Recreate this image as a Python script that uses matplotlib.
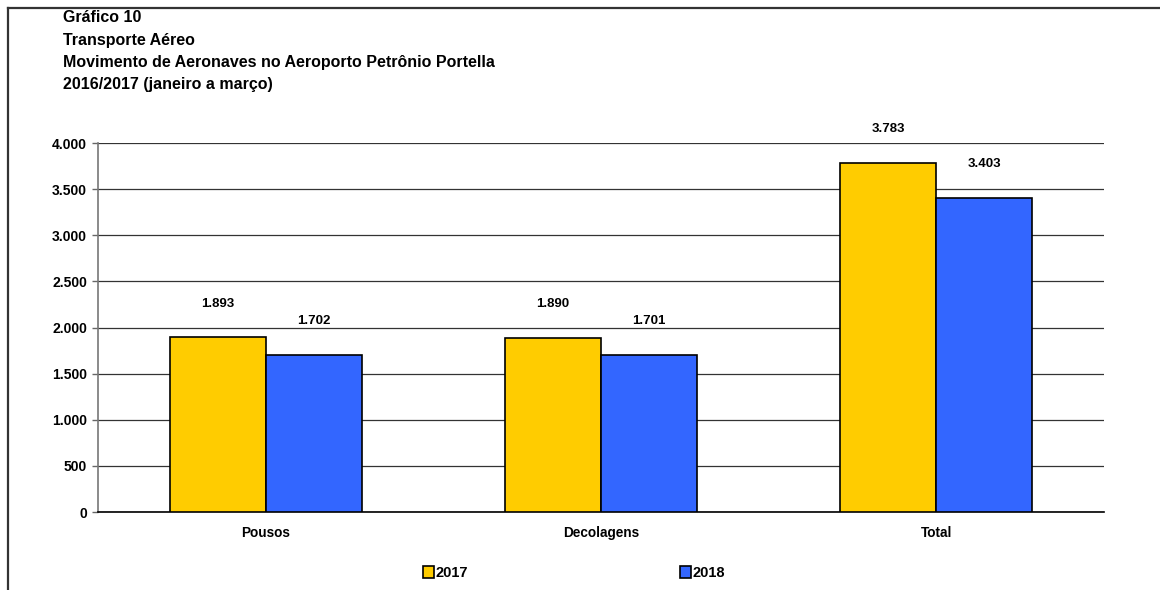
import matplotlib.pyplot as plt
import numpy as np
from matplotlib.lines import Line2D
from matplotlib.patches import Patch

plt.rcParams["font.family"] = ["Liberation Sans", "DejaVu Sans"]
plt.rcParams["font.weight"] = "bold"

categories = ["Pousos", "Decolagens", "Total"]
series_names = ["2017", "2018"]
values_2017 = [1893, 1890, 3783]
values_2018 = [1702, 1701, 3403]
title_lines = [
    "Gráfico 10",
    "Transporte Aéreo",
    "Movimento de Aeronaves no Aeroporto Petrônio Portella",
    "2016/2017 (janeiro a março)",
]

colors = ["#FFCC00", "#3366FF"]


def fmt(v):
    return f"{v:,.0f}".replace(",", ".")


fig = plt.figure(figsize=(11.6, 5.9), dpi=100)
ax = fig.add_axes([0.0845, 0.1322, 0.8672, 0.6254])

x = np.arange(len(categories))
w = 0.286
for i, (vals, c) in enumerate(zip([values_2017, values_2018], colors)):
    b = ax.bar(x + (i - 0.5) * w, vals, width=w, color=c, edgecolor="black",
               linewidth=1.2, zorder=3)
    ax.bar_label(b, labels=[fmt(v) for v in vals], padding=20, fontsize=9.5,
                 fontweight="bold", zorder=4)

ax.set_xlim(-0.5, 2.5)
ax.set_ylim(0, 4000)
ax.set_yticks(np.arange(0, 4001, 500))
ax.set_yticklabels([fmt(v) for v in np.arange(0, 4001, 500)], fontsize=10)
ax.set_xticks(x)
ax.set_xticklabels(categories, fontsize=9.8)
ax.tick_params(axis="x", length=0, pad=10)
ax.tick_params(axis="y", length=4, width=1, color="#666666", pad=4)
ax.grid(axis="y", color="#333333", linewidth=0.9, zorder=0)
for s in ["top", "right"]:
    ax.spines[s].set_visible(False)
ax.spines["left"].set_color("#777777")
ax.spines["left"].set_linewidth(1.2)
ax.spines["bottom"].set_color("black")
ax.spines["bottom"].set_linewidth(1.2)

for k, line in enumerate(title_lines):
    fig.text(63 / 1160, 1 - (18 + k * 22.3) / 590, line, fontsize=11.5,
             fontweight="bold", va="center", ha="left")

handles = [Patch(facecolor=c, edgecolor="black", linewidth=1.2) for c in colors]
fig.legend(handles, series_names, loc="center", bbox_to_anchor=(574 / 1160, 1 - 573 / 590),
           ncol=2, frameon=False, handlelength=0.8, handleheight=0.8,
           handletextpad=0.1, columnspacing=14.5, prop={"weight": "bold", "size": 10.5})

fig.add_artist(Line2D([8 / 1160, 1], [1 - 8 / 590, 1 - 8 / 590], transform=fig.transFigure,
                      color="#333333", linewidth=1.6))
fig.add_artist(Line2D([8 / 1160, 8 / 1160], [0, 1 - 8 / 590], transform=fig.transFigure,
                      color="#333333", linewidth=1.6))

fig.savefig("out.png", dpi=100)
